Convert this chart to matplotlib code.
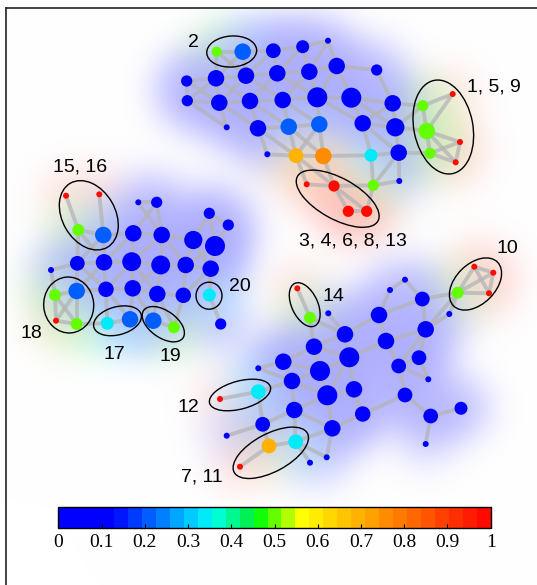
import numpy as np
import matplotlib
matplotlib.use('Agg')
import matplotlib.pyplot as plt
from matplotlib.colors import LinearSegmentedColormap, ListedColormap, BoundaryNorm
from matplotlib.collections import LineCollection
from matplotlib.patches import Ellipse
import matplotlib.cm as cm

## Network layout: three components, node position, score and weight
a_x = [216.7, 242.7, 273.3, 302.7, 328.0, 186.7, 216.0, 246.0, 277.3, 309.3, 336.7, 376.7, 187.3, 219.3,
       250.0, 282.7, 317.3, 351.3, 392.7, 422.7, 452.7, 226.7, 258.0, 288.7, 319.3, 362.7, 395.3, 426.7,
       460.0, 267.3, 296.0, 323.3, 371.0, 398.7, 430.0, 455.7, 306.7, 334.0, 373.3, 399.3, 348.3, 366.7]
a_y = [51.7, 51.7, 50.7, 46.7, 40.7, 81.0, 78.3, 75.7, 73.3, 71.7, 66.0, 70.0, 100.7, 102.7,
       101.0, 100.0, 97.3, 97.7, 103.3, 105.7, 94.0, 127.3, 128.3, 126.7, 124.3, 123.3, 127.3, 131.0,
       142.0, 154.3, 155.7, 156.0, 155.3, 152.7, 153.3, 162.3, 184.3, 186.0, 185.3, 181.0, 211.3, 211.3]
a_val = [0.49, 0.21, 0.04, 0.04, 0.04, 0.04, 0.04, 0.04, 0.04, 0.04, 0.04, 0.04, 0.04, 0.04,
         0.04, 0.04, 0.04, 0.04, 0.04, 0.49, 0.98, 0.04, 0.04, 0.22, 0.20, 0.04, 0.04, 0.49,
         0.98, 0.04, 0.69, 0.76, 0.33, 0.04, 0.49, 0.98, 0.98, 0.98, 0.49, 0.04, 0.98, 0.98]
a_w = [2.2, 4, 3.5, 3, 1, 2.5, 4, 4, 4, 4, 4, 2.5, 2.5, 4,
       4, 4, 5, 5, 4, 2.5, 1, 1, 4, 4, 4, 4, 4.5, 4,
       1, 1, 3.5, 4, 3, 4, 2.5, 1, 1, 2.5, 2.5, 1, 2.5, 2.5]
a_edges = [(1, 2), (1, 7), (1, 8), (2, 3), (2, 7), (2, 8), (3, 4), (3, 8), (3, 9), (4, 5), (4, 9), (4, 10),
           (5, 10), (5, 11), (6, 7), (6, 13), (6, 14), (7, 8), (7, 13), (7, 14), (7, 15), (8, 9), (8, 14),
           (8, 16), (9, 10), (9, 15), (9, 17), (10, 11), (10, 16), (10, 17), (11, 12), (11, 17), (11, 18),
           (12, 19), (13, 14), (13, 22), (14, 15), (14, 22), (14, 23), (15, 16), (15, 23), (15, 24),
           (16, 17), (16, 24), (16, 25), (17, 18), (17, 25), (17, 26), (18, 19), (18, 26), (18, 27),
           (19, 20), (19, 26), (19, 27), (20, 21), (20, 27), (20, 28), (21, 28), (27, 28), (27, 34),
           (28, 29), (28, 35), (28, 36), (29, 35), (29, 36), (35, 36), (26, 27), (26, 33), (26, 34),
           (23, 24), (24, 25), (23, 30), (23, 31), (24, 31), (24, 32), (25, 31), (25, 32), (30, 31),
           (31, 32), (32, 33), (33, 34), (34, 35), (33, 39), (34, 39), (34, 40), (39, 40), (38, 39),
           (39, 42), (37, 38), (31, 37), (31, 38), (32, 38), (38, 41), (38, 42), (41, 42)]

b_x = [66.0, 99.3, 78.3, 103.3, 138.3, 156.7, 133.3, 161.7, 193.3, 209.3, 228.3, 215.0, 51.0, 77.3,
       104.0, 131.7, 160.7, 185.7, 210.7, 55.0, 76.7, 106.0, 132.7, 157.3, 183.3, 209.3, 56.0, 76.7,
       107.3, 130.0, 153.3, 174.0, 220.7]
b_y = [195.7, 194.3, 230.0, 235.0, 202.3, 202.3, 233.3, 235.0, 240.0, 213.3, 225.0, 246.0, 270.0, 263.3,
       262.3, 261.7, 265.0, 265.0, 268.7, 295.0, 291.0, 289.3, 288.3, 294.0, 295.3, 295.0, 320.7, 324.0,
       323.3, 319.3, 320.7, 327.3, 324.0]
b_val = [0.98, 0.98, 0.49, 0.22, 0.04, 0.04, 0.04, 0.04, 0.04, 0.04, 0.04, 0.04, 0.04, 0.04,
         0.04, 0.04, 0.04, 0.04, 0.04, 0.49, 0.22, 0.04, 0.04, 0.04, 0.04, 0.33, 0.98, 0.49,
         0.33, 0.22, 0.22, 0.49, 0.04]
b_w = [1, 1, 2.7, 4, 1, 2.5, 4, 4, 4.5, 2.5, 2.5, 5, 1, 3.5,
       4, 4.7, 4.7, 4, 4, 2.7, 4, 3.7, 4, 4, 3.7, 3, 1, 2.7,
       3, 4, 4, 2.7, 2.5]
b_edges = [(1, 3), (2, 4), (3, 4), (3, 14), (3, 15), (4, 14), (4, 15), (4, 7), (5, 6), (5, 8), (6, 7),
           (6, 8), (7, 8), (7, 15), (7, 16), (8, 9), (8, 16), (8, 17), (8, 18), (9, 10), (9, 12), (9, 18),
           (9, 19), (10, 11), (10, 12), (11, 12), (12, 18), (12, 19), (13, 14), (13, 20), (14, 15),
           (14, 21), (14, 22), (15, 16), (15, 21), (15, 22), (16, 17), (16, 22), (16, 23), (16, 24),
           (17, 18), (17, 23), (17, 24), (18, 19), (18, 25), (19, 25), (19, 26), (20, 21), (20, 27),
           (20, 28), (21, 22), (21, 27), (21, 28), (22, 23), (22, 29), (22, 30), (23, 24), (23, 30),
           (23, 31), (24, 25), (24, 31), (24, 32), (25, 32), (26, 33), (27, 28), (28, 29), (29, 30),
           (30, 31), (31, 32)]

c_x = [297.3, 310.0, 328.3, 405.0, 390.0, 422.3, 457.7, 474.3, 493.3, 489.0, 449.3, 379.0, 425.7, 345.0,
       386.0, 314.0, 349.3, 419.0, 283.3, 258.3, 320.0, 398.7, 428.3, 292.0, 258.3, 220.0, 327.3, 354.0,
       405.0, 294.3, 362.7, 430.7, 461.0, 262.7, 226.7, 332.3, 425.7, 295.7, 269.0, 240.0, 310.0, 326.7]
c_y = [288.3, 317.7, 313.3, 279.7, 290.0, 299.0, 292.7, 266.7, 272.7, 293.3, 314.0, 315.0, 329.3, 334.3,
       341.0, 346.7, 357.3, 357.7, 361.7, 368.3, 371.0, 366.0, 379.3, 381.0, 391.7, 399.0, 395.3, 389.3,
       395.0, 410.0, 414.0, 416.0, 408.3, 424.3, 435.7, 428.3, 444.0, 441.7, 446.0, 466.7, 462.7, 457.3]
c_val = [0.98, 0.49, 0.04, 0.04, 0.04, 0.04, 0.49, 0.98, 0.98, 0.98, 0.04, 0.04, 0.04, 0.04,
         0.04, 0.04, 0.04, 0.04, 0.04, 0.04, 0.04, 0.04, 0.04, 0.04, 0.33, 0.98, 0.04, 0.04,
         0.04, 0.04, 0.04, 0.04, 0.04, 0.04, 0.04, 0.04, 0.04, 0.33, 0.68, 0.98, 0.04, 0.04]
c_w = [1, 2.7, 1, 1, 1, 3.5, 2.7, 1, 1, 1, 1, 4, 4, 4,
       4, 4, 5, 3.5, 4, 1, 5, 3.5, 1, 4, 3.5, 1, 5, 4,
       3.5, 4, 3.7, 3.5, 3, 3.5, 1, 4, 1, 3.5, 3.5, 1, 1, 1]
c_edges = [(1, 2), (2, 14), (2, 16), (3, 14), (4, 5), (4, 6), (5, 12), (6, 12), (6, 7), (6, 13), (7, 8),
           (7, 9), (7, 10), (8, 9), (8, 10), (9, 10), (7, 11), (11, 13), (7, 13), (12, 14), (12, 15),
           (13, 15), (13, 18), (13, 22), (14, 16), (14, 17), (15, 17), (15, 22), (16, 19), (16, 21),
           (16, 17), (17, 21), (17, 28), (17, 27), (18, 22), (18, 23), (19, 20), (19, 21), (19, 24),
           (20, 24), (21, 24), (21, 27), (22, 23), (22, 29), (24, 25), (24, 30), (24, 27), (25, 26),
           (25, 34), (27, 28), (27, 30), (27, 36), (28, 31), (29, 31), (29, 32), (30, 34), (30, 38),
           (30, 36), (31, 36), (32, 33), (32, 37), (34, 35), (34, 39), (36, 38), (36, 42), (38, 39),
           (38, 41), (38, 42), (39, 40)]

## Highlighted groups
group_labels = ['2', '1, 5, 9', '3, 4, 6, 8, 13', '15, 16', '18', '17', '19', '20', '14', '10', '12', '7, 11']

## Colormap with 31 levels
base = LinearSegmentedColormap.from_list('rb', [
    (0.0, (0, 0, 1)), (0.125, (0, 0, 1)), (0.33, (0, 0.9, 1)), (0.37, (0, 1, 0.82)),
    (0.44, (0, 0.94, 0.3)), (0.47, (0.08, 1, 0)), (0.565, (1, 1, 0)), (1.0, (1, 0, 0))])
nlev = 31
cmap = ListedColormap(base((np.arange(nlev) + 0.5) / nlev))
norm = BoundaryNorm(np.linspace(0, 1, nlev + 1), nlev)

W, H = 537, 585
fig = plt.figure(figsize=(W / 100, H / 100), dpi=100)
ax = fig.add_axes([6 / W, 0, 1 - 6 / W, 1 - 8 / H])
ax.set_xlim(6, W)
ax.set_ylim(H, 8)
ax.set_xticks([])
ax.set_yticks([])
for s in ['right', 'bottom']:
    ax.spines[s].set_visible(False)
for s in ['left', 'top']:
    ax.spines[s].set_color('#222222')
    ax.spines[s].set_linewidth(1.2)

xs = np.array(a_x + b_x + c_x)
ys = np.array(a_y + b_y + c_y)
vals = np.array(a_val + b_val + c_val)
ws = np.array(a_w + b_w + c_w)
cols = cmap(norm(vals))

## soft halo under the components
sigma = 22.0
gx, gy = np.meshgrid(np.arange(0, W, 2) + 1.0, np.arange(0, H, 2) + 1.0)
dens = np.zeros(gx.shape)
acc = np.zeros(gx.shape + (3,))
for x, y, w, c in zip(xs, ys, ws, cols):
    g = w * np.exp(-((gx - x) ** 2 + (gy - y) ** 2) / (2 * sigma ** 2))
    dens += g
    acc += g[..., None] * np.array(c[:3])
acc /= np.maximum(dens, 1e-9)[..., None]
alpha = 0.33 * (1 - np.exp(-dens / 4.0))
rgb = 1 - alpha[..., None] * (1 - acc)
ax.imshow(rgb, extent=(0, W, H, 0), interpolation='bilinear', zorder=0, aspect='auto')

## edges
segs = []
offset = 0
for ex, edges in [(a_x, a_edges), (b_x, b_edges), (c_x, c_edges)]:
    for i, j in edges:
        p, q = offset + i - 1, offset + j - 1
        segs.append([(xs[p], ys[p]), (xs[q], ys[q])])
    offset += len(ex)
ax.add_collection(LineCollection(segs, colors='#b4b4b8', linewidths=2.8, alpha=0.75, zorder=1))

## nodes
radius = 3 + (ws - 1) * 1.75
ax.scatter(xs, ys, s=(1.44 * radius) ** 2, c=cols, linewidths=0, zorder=2)

## group outlines and labels
ell = [(231.7, 51.5, 50, 31, -4), (443.3, 127.0, 95, 59, 79), (337.7, 198.7, 92, 41, 29),
       (88.8, 215.3, 74, 53, 60), (68.7, 305.0, 56, 50, 85), (117.5, 320.8, 49, 28, -15),
       (163.3, 324.2, 48, 27, 35), (209.0, 295.7, 26, 27, 0), (304.7, 304.7, 47, 26, 65),
       (475.5, 284.0, 62, 40, -45), (240.0, 395.0, 63, 28, -15), (270.8, 452.8, 83, 38, -28)]
lab_pos = [(193, 42), (494, 87), (353, 241), (80, 167), (31.5, 333), (114.7, 354),
           (170.5, 356.5), (239.5, 286), (333.8, 296.3), (507, 248), (188, 407), (202, 477)]
for (cx, cy, ew, eh, ang), txt, (tx, ty) in zip(ell, group_labels, lab_pos):
    ax.add_patch(Ellipse((cx, cy), ew, eh, angle=ang, fill=False, edgecolor='black', lw=1.0, zorder=3))
    ax.text(tx, ty, txt, fontsize=14, family='Liberation Sans', ha='center', va='center', zorder=4)

## colorbar
cax = fig.add_axes([58.3 / W, (H - 528.3) / H, (490.7 - 58.3) / W, 21 / H])
cb = fig.colorbar(cm.ScalarMappable(norm=norm, cmap=cmap), cax=cax, orientation='horizontal')
ticks = np.round(np.arange(0, 1.01, 0.1), 1)
cb.set_ticks(ticks)
cb.set_ticklabels(['0' if t == 0 else ('1' if t == 1 else f'{t:g}') for t in ticks])
cb.ax.minorticks_off()
cb.ax.tick_params(direction='in', length=3, width=0.8, pad=4, labelsize=14)
for lbl in cb.ax.get_xticklabels():
    lbl.set_family('Liberation Serif')
cb.outline.set_linewidth(1.0)

fig.savefig('out.png', dpi=100)
